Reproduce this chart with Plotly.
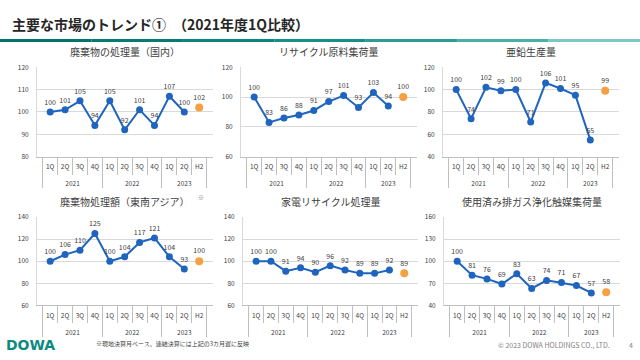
import plotly.graph_objects as go

years = ["2021"] * 4 + ["2022"] * 4 + ["2023"] * 2
quarters = ["1Q", "2Q", "3Q", "4Q", "1Q", "2Q", "3Q", "4Q", "1Q", "2Q"]
h2_year = ["2023"]
h2_label = ["H2"]

titles = [
    "廃棄物の処理量（国内）",
    "リサイクル原料集荷量",
    "亜鉛生産量",
    "廃棄物処理額（東南アジア）",
    "家電リサイクル処理量",
    "使用済み排ガス浄化触媒集荷量",
]

waste_domestic = [100, 101, 105, 94, 105, 92, 101, 94, 107, 100]
recycle_material = [100, 83, 86, 88, 91, 97, 101, 93, 103, 94]
zinc_production = [100, 74, 102, 99, 100, 71, 106, 101, 95, 55]
waste_sea = [100, 106, 110, 125, 100, 104, 117, 121, 104, 93]
appliance_recycle = [100, 100, 91, 94, 90, 96, 92, 89, 89, 92]
catalyst = [100, 81, 76, 69, 83, 63, 74, 71, 67, 57]
series = [waste_domestic, recycle_material, zinc_production, waste_sea, appliance_recycle, catalyst]
h2_values = [102, 100, 99, 100, 89, 58]

y_ranges = [(80, 120), (60, 120), (40, 120), (60, 140), (60, 140), (40, 160)]
y_dticks = [10, 20, 20, 20, 20, 30]

W, H = 640, 360
# pixel boxes (left, right, top, bottom)
boxes = [
    (37, 213, 63, 155),
    (241, 417, 63, 155),
    (443, 619, 63, 155),
    (37, 213, 217, 308),
    (243, 418, 217, 308),
    (444, 620, 217, 308),
]

BLUE = "#1f64be"
ORANGE = "#f7a043"
GRID = "#d9d9d9"
TXT = "#404040"
FONT = "Noto Sans CJK JP"

# inner labels get a trailing empty line so the year row sits lower
def pad(labels):
    return [q + "<br> " for q in labels]

fig = go.Figure()
layout = dict(
    width=W, height=H, margin=dict(l=0, r=0, t=0, b=0),
    paper_bgcolor="white", plot_bgcolor="white", showlegend=False,
    font=dict(family=FONT, color=TXT),
)
annotations = []
for i in range(6):
    n = i + 1
    xa = "x" if n == 1 else f"x{n}"
    ya = "y" if n == 1 else f"y{n}"
    l, r, t, b = boxes[i]
    fig.add_trace(go.Scatter(
        x=[years, pad(quarters)], y=series[i], xaxis=xa, yaxis=ya,
        mode="lines+markers+text", text=[str(v) for v in series[i]],
        textposition="top center", textfont=dict(size=7, color=TXT, family=FONT),
        line=dict(color=BLUE, width=2), marker=dict(color=BLUE, size=7),
        cliponaxis=False, hoverinfo="skip",
    ))
    fig.add_trace(go.Scatter(
        x=[h2_year, pad(h2_label)], y=[h2_values[i]], xaxis=xa, yaxis=ya,
        mode="markers+text", text=[str(h2_values[i])],
        textposition="top center", textfont=dict(size=7, color=TXT, family=FONT),
        marker=dict(color=ORANGE, size=8), cliponaxis=False, hoverinfo="skip",
    ))
    xkey = "xaxis" if n == 1 else f"xaxis{n}"
    ykey = "yaxis" if n == 1 else f"yaxis{n}"
    layout[xkey] = dict(
        type="multicategory", domain=[l / W, r / W], anchor=ya,
        showline=True, linecolor="#bfbfbf", linewidth=1,
        ticks="outside", tickson="boundaries", ticklen=17, tickcolor="#bfbfbf",
        showdividers=True, dividercolor="#bfbfbf", dividerwidth=1,
        tickangle=0, tickfont=dict(size=6.5, color=TXT, family=FONT), showgrid=False,
        ticklabelstandoff=4, fixedrange=True,
    )
    layout[ykey] = dict(
        domain=[1 - b / H, 1 - t / H], anchor=xa,
        range=list(y_ranges[i]), dtick=y_dticks[i], tick0=y_ranges[i][0],
        showgrid=True, gridcolor=GRID, gridwidth=1, zeroline=False,
        showline=True, linecolor=GRID, linewidth=1,
        tickfont=dict(size=6.5, color=TXT, family=FONT), ticks="",
        ticklabelstandoff=6, fixedrange=True,
    )
    annotations.append(dict(
        text=titles[i], x=(l + r) / 2 / W, y=1 - (t - 16) / H,
        xref="paper", yref="paper", xanchor="center", yanchor="middle",
        showarrow=False, font=dict(size=10, color=TXT, family=FONT),
    ))

annotations.append(dict(text="※", x=196 / W, y=1 - 197 / H, xref="paper", yref="paper",
                        showarrow=False, font=dict(size=6, color="#7f7f7f", family=FONT)))
annotations.append(dict(text="<b>主要な市場のトレンド①　（2021年度1Q比較）</b>",
                        x=10 / W, y=1 - 19 / H, xref="paper", yref="paper",
                        xanchor="left", yanchor="middle", showarrow=False,
                        font=dict(size=14, color="#262626", family=FONT)))
annotations.append(dict(text="<b>DOWA</b>", x=4 / W, y=1 - 349 / H, xref="paper", yref="paper",
                        xanchor="left", yanchor="middle", showarrow=False,
                        font=dict(size=14, color="#0b8a80", family="DejaVu Sans")))
annotations.append(dict(text="※現地決算月ベース、連結決算には上記の3カ月遅に反映",
                        x=94 / W, y=1 - 347 / H, xref="paper", yref="paper",
                        xanchor="left", yanchor="middle", showarrow=False,
                        font=dict(size=6, color=TXT, family=FONT)))
annotations.append(dict(text="© 2023 DOWA HOLDINGS CO., LTD.", x=612 / W, y=1 - 349 / H,
                        xref="paper", yref="paper", xanchor="right", yanchor="middle",
                        showarrow=False, font=dict(size=7, color="#7f7f7f", family=FONT)))
annotations.append(dict(text="4", x=631 / W, y=1 - 349 / H, xref="paper", yref="paper",
                        xanchor="center", yanchor="middle", showarrow=False,
                        font=dict(size=7, color="#7f7f7f", family=FONT)))
layout["annotations"] = annotations

# header rule: dark-to-light teal segments
shapes = []
teals = ["#00746c", "#057b73", "#0b857d", "#159089", "#2a9d97", "#4aaeaa", "#7cc6c3"]
seg = W / len(teals)
for k, c in enumerate(teals):
    shapes.append(dict(type="rect", xref="paper", yref="paper",
                       x0=k * seg / W, x1=(k + 1) * seg / W,
                       y0=1 - 37 / H, y1=1 - 34 / H, line=dict(width=0), fillcolor=c))
layout["shapes"] = shapes

fig.update_layout(**layout)
fig.write_html(
    "out.html",
    config={"displayModeBar": False},
    post_script="document.body.style.margin='0';document.body.style.overflow='hidden';",
)
